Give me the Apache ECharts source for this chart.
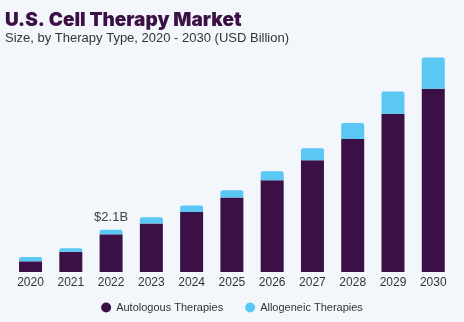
<!DOCTYPE html>
<html>
<head>
<meta charset="utf-8">
<script src="https://cdn.jsdelivr.net/npm/echarts@6/dist/echarts.min.js"></script>
<style>
  html, body { margin: 0; padding: 0; background: #f3f7fb; }
  #chart { width: 464px; height: 322px; }
</style>
</head>
<body>
<div id="chart"></div>
<script>
// Market size by therapy type (USD billion)
const years = ['2020', '2021', '2022', '2023', '2024', '2025', '2026', '2027', '2028', '2029', '2030'];
const autologous = [0.53, 1.0, 1.87, 2.41, 2.98, 3.7, 4.55, 5.55, 6.6, 7.86, 9.1];
const allogeneic = [0.21, 0.18, 0.23, 0.31, 0.32, 0.36, 0.45, 0.6, 0.8, 1.1, 1.55];
const labelledYear = '2022';
const labelText = '$2.1B';

const chart = echarts.init(document.getElementById('chart'));

const alloData = allogeneic.map((v, i) => {
  if (years[i] !== labelledYear) return v;
  return {
    value: v,
    label: {
      show: true,
      position: 'top',
      distance: 6,
      formatter: labelText,
      color: '#444',
      fontSize: 13,
      fontFamily: 'Liberation Sans, Arial, sans-serif'
    }
  };
});

chart.setOption({
  backgroundColor: '#f3f7fb',
  animation: false,
  title: [
    {
      text: 'U.S. Cell Therapy Market',
      left: 0,
      top: 6,
      textStyle: { color: '#3a1046', fontSize: 19, fontWeight: 900, fontFamily: 'Inter, Liberation Sans, sans-serif' }
    },
    {
      text: 'Size, by Therapy Type, 2020 - 2030 (USD Billion)',
      left: 0,
      top: 27,
      textStyle: { color: '#333', fontSize: 13, fontWeight: 'normal', fontFamily: 'Liberation Sans, Arial, sans-serif' }
    }
  ],
  legend: {
    bottom: 4,
    left: 'center',
    itemGap: 22,
    icon: 'circle',
    itemWidth: 10,
    itemHeight: 10,
    textStyle: { color: '#333', fontSize: 11, fontFamily: 'Liberation Sans, Arial, sans-serif' },
    data: ['Autologous Therapies', 'Allogeneic Therapies']
  },
  grid: { left: 10.4, right: 10.6, top: 30.3, bottom: 50, containLabel: false },
  xAxis: {
    type: 'category',
    data: years,
    axisLine: { show: false },
    axisTick: { show: false },
    axisLabel: { color: '#333', fontSize: 12, margin: 5, fontFamily: 'Liberation Sans, Arial, sans-serif' }
  },
  yAxis: {
    type: 'value',
    min: 0,
    max: 12,
    show: false,
    splitLine: { show: false }
  },
  series: [
    {
      name: 'Autologous Therapies',
      type: 'bar',
      stack: 'total',
      barWidth: 23,
      itemStyle: { color: '#3a1046' },
      data: autologous
    },
    {
      name: 'Allogeneic Therapies',
      type: 'bar',
      stack: 'total',
      barWidth: 23,
      itemStyle: { color: '#5ac8f3', borderRadius: [2, 2, 0, 0] },
      data: alloData
    }
  ]
});
</script>
</body>
</html>
